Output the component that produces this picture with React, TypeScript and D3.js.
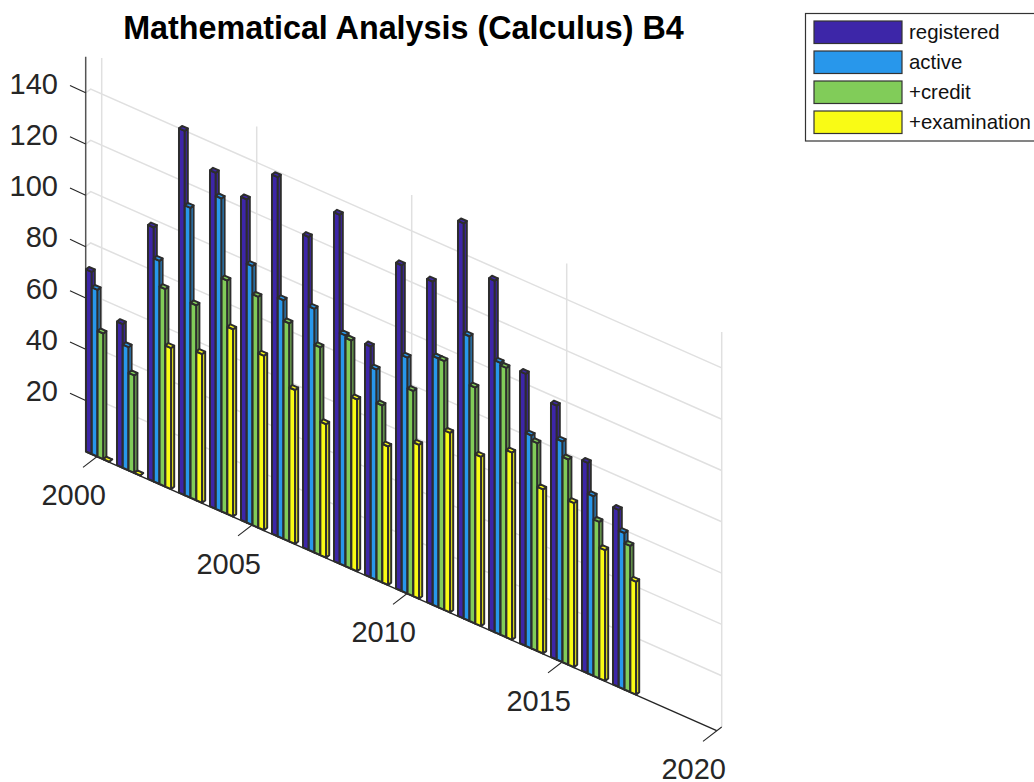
import React from "react";
import * as d3 from "d3";

const years = d3.range(2000, 2018);
const seriesNames = ["registered", "active", "+credit", "+examination"];
const seriesColors = ["#3D26A8", "#2897EB", "#81CC59", "#F9FB15"];
const registered = [71, 56, 99, 142, 131, 126, 140, 122, 136, 90, 127, 126, 154, 137, 106, 99, 82, 69];
const active = [65, 48, 87, 113, 122, 101, 93, 95, 90, 82, 92, 97, 111, 106, 83, 86, 70, 61];
const credit = [49, 38, 77, 76, 91, 90, 85, 81, 89, 69, 80, 97, 92, 105, 81, 80, 61, 57];
const examination = [0, 0, 55, 58, 73, 68, 60, 52, 67, 54, 60, 70, 66, 73, 64, 64, 51, 44];
const seriesValues = [registered, active, credit, examination];
const zTicks = [20, 40, 60, 80, 100, 120, 140];
const yearTicks = [2000, 2005, 2010, 2015, 2020];

const FONT = "'Liberation Sans', Arial, Helvetica, sans-serif";
const TEXT = "#262626";
const GRID = "#e0e0e0";
const EDGE = "#2d2d2d";

const xPx = d3.scaleLinear().domain([2000, 2020]).range([96.7, 716.7]);
const yPx = d3.scaleLinear().domain([2000, 2020]).range([456.7, 730.7]);
const zPx = d3.scaleLinear().domain([0, 154]).range([0, 395]);

const axisStart = 1999.645;
const zTop = 154;
const wall = { x: 5, y: -3.7 };
const barW = 0.187;
const barU = { x: 5.8, y: 2.56 };
const barV = { x: -3, y: 2.4 };

function pts(list: number[][]) {
  return list.map((p) => p.join(",")).join(" ");
}

function Bar({ year, k, value }: { year: number; k: number; value: number }) {
  const t = year + (k - 1.33) * barW;
  const px = xPx(t);
  const py = yPx(t) - 4.22;
  const h = zPx(value);
  const B = [px, py];
  const R = [px + barU.x, py + barU.y];
  const L = [px + barV.x, py + barV.y];
  const F = [px + barU.x + barV.x, py + barU.y + barV.y];
  const up = (p: number[]) => [p[0], p[1] - h];
  const common = {
    fill: seriesColors[k],
    stroke: EDGE,
    strokeWidth: 2,
    strokeLinejoin: "round" as const,
  };
  return (
    <g>
      <polygon points={pts([L, F, up(F), up(L)])} {...common} />
      <polygon points={pts([F, R, up(R), up(F)])} {...common} />
      <polygon points={pts([up(B), up(R), up(F), up(L)])} {...common} />
    </g>
  );
}

export default function App() {
  const startX = xPx(axisStart);
  const startY = yPx(axisStart);
  const endX = xPx(2020);
  const endY = yPx(2020);
  return (
    <svg
      width={1034}
      height={782}
      viewBox="0 0 1034 782"
      style={{ position: "absolute", left: 0, top: 0, display: "block", background: "#fff" }}
      fontFamily={FONT}
    >
      {/* walls: vertical year grid */}
      {yearTicks.map((y) => (
        <line
          key={"vg" + y}
          x1={xPx(y) + wall.x}
          x2={xPx(y) + wall.x}
          y1={yPx(y) + wall.y}
          y2={yPx(y) + wall.y - zPx(zTop)}
          stroke={GRID}
          strokeWidth={1.5}
        />
      ))}
      {/* walls: height grid */}
      {zTicks.map((z) => (
        <polyline
          key={"hg" + z}
          points={pts([
            [startX, startY - zPx(z)],
            [startX + wall.x, startY + wall.y - zPx(z)],
            [endX + wall.x, endY + wall.y - zPx(z)],
          ])}
          fill="none"
          stroke={GRID}
          strokeWidth={1.5}
        />
      ))}
      {/* axes */}
      <line x1={startX} x2={startX} y1={startY} y2={startY - zPx(zTop)} stroke="#555" strokeWidth={1.5} />
      <line x1={startX} y1={startY} x2={endX} y2={endY} stroke={TEXT} strokeWidth={1.4} />
      {zTicks.map((z) => (
        <g key={"zt" + z}>
          <line
            x1={startX}
            y1={startY - zPx(z)}
            x2={startX - 15.7}
            y2={startY - zPx(z) - 7.3}
            stroke={TEXT}
            strokeWidth={1.1}
          />
          <text x={58} y={startY - zPx(z) + 0.8} textAnchor="end" fontSize={29} fill={TEXT}>
            {z}
          </text>
        </g>
      ))}
      {yearTicks.map((y) => (
        <g key={"xt" + y}>
          <line
            x1={xPx(y) + wall.x}
            y1={yPx(y) + wall.y}
            x2={xPx(y) - 13.7}
            y2={yPx(y) + 10.7}
            stroke={TEXT}
            strokeWidth={1.1}
          />
          <text x={xPx(y) - 23} y={yPx(y) + 48.5} textAnchor="middle" fontSize={29} fill={TEXT}>
            {y}
          </text>
        </g>
      ))}
      {/* bars */}
      {years.map((year, g) =>
        seriesValues.map((vals, k) => (
          <Bar key={year + "-" + k} year={year} k={k} value={vals[g]} />
        ))
      )}
      {/* title */}
      <text x={403.5} y={39} textAnchor="middle" fontSize={32.3} fontWeight="bold" fill="#000">
        Mathematical Analysis (Calculus) B4
      </text>
      {/* legend */}
      <rect x={805.5} y={13.5} width={240} height={127.5} fill="#fff" stroke="#333" strokeWidth={1.2} />
      {seriesNames.map((name, i) => (
        <g key={name}>
          <rect
            x={814}
            y={21 + i * 30}
            width={88}
            height={22.5}
            fill={seriesColors[i]}
            stroke="#333"
            strokeWidth={1.2}
          />
          <text x={909} y={39 + i * 30} fontSize={20.4} fill="#111">
            {name}
          </text>
        </g>
      ))}
    </svg>
  );
}
